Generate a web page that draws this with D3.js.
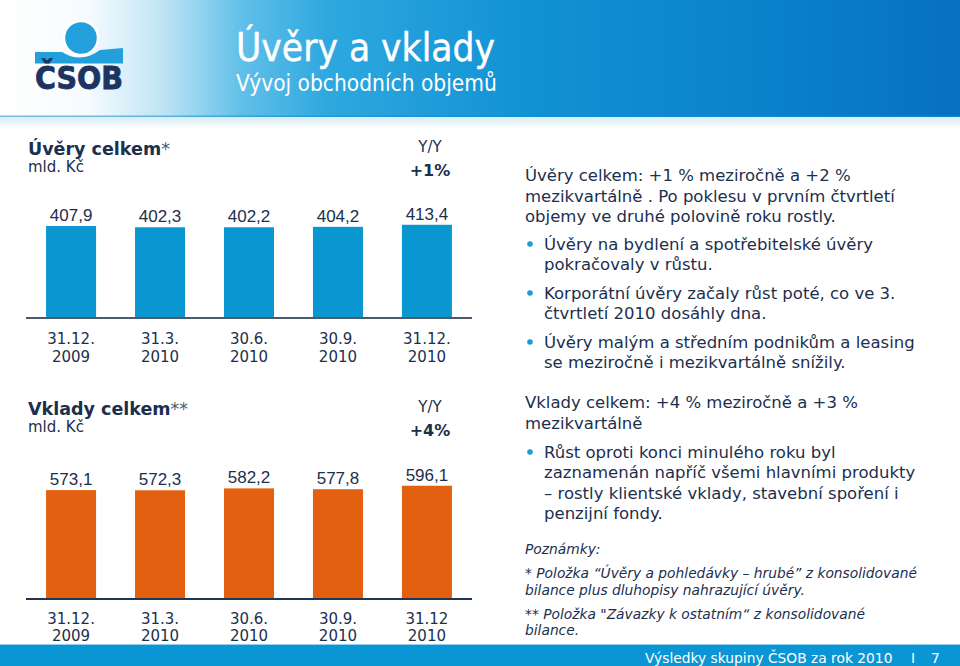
<!DOCTYPE html>
<html>
<head>
<meta charset="utf-8">
<script src="https://cdn.jsdelivr.net/npm/d3@7/dist/d3.min.js"></script>
<style>
  html, body { margin: 0; padding: 0; background: #ffffff; }
  svg { display: block; }
  text { font-family: "DejaVu Sans", Verdana, sans-serif; }
</style>
</head>
<body>
<svg id="chart" width="960" height="666"></svg>
<script>
// ---------------- DATA ----------------
const loanCategories = [["31.12.", "2009"], ["31.3.", "2010"], ["30.6.", "2010"], ["30.9.", "2010"], ["31.12.", "2010"]];
const loanValues = [407.9, 402.3, 402.2, 404.2, 413.4];
const loanYoY = "+1%";

const depositCategories = [["31.12.", "2009"], ["31.3.", "2010"], ["30.6.", "2010"], ["30.9.", "2010"], ["31.12", "2010"]];
const depositValues = [573.1, 572.3, 582.2, 577.8, 596.1];
const depositYoY = "+4%";

const titleMain = "Úvěry a vklady";
const titleSub = "Vývoj obchodních objemů";

const loanText = [
  { t: "Úvěry celkem: +1 % meziročně a +2 %", b: false },
  { t: "mezikvartálně . Po poklesu v prvním čtvrtletí", b: false },
  { t: "objemy ve druhé polovině roku rostly.", b: false },
  { t: "Úvěry na bydlení a spotřebitelské úvěry", b: true },
  { t: "pokračovaly v růstu.", b: false, indent: true },
  { t: "Korporátní úvěry začaly růst poté, co ve 3.", b: true },
  { t: "čtvrtletí 2010 dosáhly dna.", b: false, indent: true },
  { t: "Úvěry malým a středním podnikům a leasing", b: true },
  { t: "se meziročně i mezikvartálně snížily.", b: false, indent: true }
];
const depositText = [
  { t: "Vklady celkem: +4 % meziročně a +3 %", b: false },
  { t: "mezikvartálně", b: false },
  { t: "Růst oproti konci minulého roku byl", b: true },
  { t: "zaznamenán napříč všemi hlavními produkty", b: false, indent: true },
  { t: "– rostly klientské vklady, stavební spoření i", b: false, indent: true },
  { t: "penzijní fondy.", b: false, indent: true }
];
const notes = [
  "Poznámky:",
  "* Položka “Úvěry a pohledávky – hrubé”  z konsolidované",
  "bilance plus dluhopisy nahrazující úvěry.",
  "** Položka \"Závazky k ostatním“ z konsolidované",
  "bilance."
];
const footerText = "Výsledky skupiny ČSOB za rok 2010";
const pageNumber = "7";

// ---------------- SETUP ----------------
const svg = d3.select("#chart");
const NAVY = "#1b2f4e";
const czFormat = d3.formatLocale({ decimal: ",", thousands: " ", grouping: [3], currency: ["", " Kč"] }).format(".1f");

const defs = svg.append("defs");
const hg = defs.append("linearGradient").attr("id", "hdr").attr("x1", "0").attr("x2", "1").attr("y1", "0").attr("y2", "0");
[[0, "#ffffff"], [0.09, "#f6fbfe"], [0.17, "#bfe4f5"], [0.25, "#62c0e9"], [0.34, "#2ea8df"], [0.55, "#1192d4"], [0.8, "#0a82cb"], [1, "#0770c0"]]
  .forEach(([o, c]) => hg.append("stop").attr("offset", o).attr("stop-color", c));
const sg = defs.append("linearGradient").attr("id", "shade").attr("x1", "0").attr("x2", "0").attr("y1", "0").attr("y2", "1");
sg.append("stop").attr("offset", 0).attr("stop-color", "#cfe9f7");
sg.append("stop").attr("offset", 1).attr("stop-color", "#ffffff");

// Header
svg.append("rect").attr("x", 0).attr("y", 0).attr("width", 960).attr("height", 117).attr("fill", "url(#hdr)");
svg.append("rect").attr("x", 0).attr("y", 117).attr("width", 960).attr("height", 12).attr("fill", "url(#shade)").attr("opacity", 0.8);
svg.append("rect").attr("x", 0).attr("y", 115.5).attr("width", 960).attr("height", 1.5).attr("fill", "#1a8fcf").attr("opacity", 0.6);

// Logo
const logo = svg.append("g");
logo.append("path")
  .attr("d", "M35,52 L62,52 Q81,64 100,50 L123,48 L123,63.5 L35,63.5 Z")
  .attr("fill", "#22a0dc");
logo.append("circle").attr("cx", 81).attr("cy", 38).attr("r", 17)
  .attr("fill", "#22a0dc").attr("stroke", "#ffffff").attr("stroke-width", 2.5);
logo.append("text").attr("x", 35).attr("y", 89).attr("textLength", 88).attr("lengthAdjust", "spacingAndGlyphs")
  .style("font-family", "'DejaVu Sans Condensed', 'DejaVu Sans', sans-serif")
  .style("font-weight", "bold").style("font-size", "32px").attr("fill", "#1d3461")
  .attr("stroke", "#1d3461").attr("stroke-width", 0.8).text("ČSOB");

svg.append("text").attr("x", 236).attr("y", 61)
  .style("font-family", "'DejaVu Sans Condensed', 'DejaVu Sans', sans-serif")
  .style("font-size", "38.5px").attr("fill", "#ffffff")
  .attr("stroke", "#ffffff").attr("stroke-width", 0.4).text(titleMain);
svg.append("text").attr("x", 236).attr("y", 91)
  .style("font-family", "'DejaVu Sans Condensed', 'DejaVu Sans', sans-serif")
  .style("font-size", "22.5px").attr("fill", "#ffffff").text(titleSub);

// ---------------- BAR CHARTS ----------------
const x = d3.scaleBand().domain(d3.range(5)).range([26.5, 471.5]).paddingInner(0.438).paddingOuter(0.22);

function drawChart(cfg) {
  const g = svg.append("g");
  const y = d3.scaleLinear().domain([0, cfg.domainMax]).range([cfg.base, cfg.base - cfg.pxPerUnit * cfg.domainMax]);
  // Title
  const tt = g.append("text").attr("x", 28).attr("y", cfg.titleY).attr("fill", NAVY).style("font-size", "17.5px");
  tt.append("tspan").style("font-weight", "bold").text(cfg.title);
  tt.append("tspan").style("font-weight", "normal").attr("fill", "#4a5a70").text(cfg.stars);
  g.append("text").attr("x", 28).attr("y", cfg.titleY + 17).attr("fill", NAVY).style("font-size", "15px").text("mld. Kč");
  g.append("text").attr("x", 430).attr("y", cfg.titleY - 3).attr("text-anchor", "middle").attr("fill", NAVY).style("font-size", "15px").text("Y/Y");
  g.append("text").attr("x", 430).attr("y", cfg.titleY + 21).attr("text-anchor", "middle").attr("fill", NAVY)
    .style("font-size", "16px").style("font-weight", "bold").text(cfg.yoy);

  g.selectAll("rect.bar").data(cfg.values).join("rect").attr("class", "bar")
    .attr("x", (d, i) => x(i)).attr("width", x.bandwidth())
    .attr("y", d => y(d)).attr("height", d => y(0) - y(d)).attr("fill", cfg.color);

  g.selectAll("text.val").data(cfg.values).join("text").attr("class", "val")
    .attr("x", (d, i) => x(i) + x.bandwidth() / 2).attr("y", d => y(d) - 5)
    .attr("text-anchor", "middle").attr("fill", NAVY)
    .style("font-family", "'Liberation Sans', Arial, sans-serif").style("font-size", "17px")
    .text(d => czFormat(d));

  const axis = d3.axisBottom(x).tickSize(0).tickFormat("");
  const ax = g.append("g").attr("transform", `translate(0,${y(0)})`).call(axis);
  ax.select(".domain").attr("d", "M26,0H472").attr("stroke", cfg.axisColor).attr("stroke-width", 2);

  const cl = g.selectAll("text.cat").data(cfg.categories).join("text").attr("class", "cat")
    .attr("text-anchor", "middle").attr("fill", NAVY).style("font-size", "15px");
  cl.each(function (d, i) {
    const t = d3.select(this);
    d.forEach((line, j) => {
      t.append("tspan").attr("x", x(i) + x.bandwidth() / 2).attr("y", y(0) + cfg.catOffset + j * cfg.catLine).text(line);
    });
  });
}

drawChart({ title: "Úvěry celkem", stars: "*", yoy: loanYoY, values: loanValues, categories: loanCategories,
  color: "#0a96d0", axisColor: "#4b5b6d", base: 318, pxPerUnit: 0.2255, domainMax: 450,
  titleY: 155, catOffset: 26, catLine: 17.5 });
drawChart({ title: "Vklady celkem", stars: "**", yoy: depositYoY, values: depositValues, categories: depositCategories,
  color: "#e2600f", axisColor: "#1f3652", base: 599, pxPerUnit: 0.19, domainMax: 600,
  titleY: 415, catOffset: 25, catLine: 17 });

// ---------------- RIGHT TEXT ----------------
function drawText(lines, baselines) {
  lines.forEach((l, i) => {
    const xx = (l.b || l.indent) ? 544 : 525;
    svg.append("text").attr("x", xx).attr("y", baselines[i]).attr("fill", NAVY).style("font-size", "16.5px").text(l.t);
    if (l.b) svg.append("circle").attr("cx", 530).attr("cy", baselines[i] - 6).attr("r", 2.8).attr("fill", "#1a9ad6");
  });
}
drawText(loanText, [181, 202, 222, 250, 270, 299, 319, 348, 368]);
drawText(depositText, [408, 429, 458, 478, 499, 519]);

const noteY = [554, 578, 595, 619, 635];
notes.forEach((n, i) => {
  svg.append("text").attr("x", 525).attr("y", noteY[i]).attr("fill", NAVY)
    .style("font-size", "13.8px").style("font-style", "italic").text(n);
});

// ---------------- FOOTER ----------------
svg.append("rect").attr("x", 0).attr("y", 645).attr("width", 960).attr("height", 21).attr("fill", "#0a96d4");
svg.append("rect").attr("x", 0).attr("y", 644).attr("width", 960).attr("height", 1).attr("fill", "#8fd0ef");
svg.append("text").attr("x", 645).attr("y", 663).attr("fill", "#ffffff").style("font-size", "13.8px").text(footerText);
svg.append("text").attr("x", 911).attr("y", 663).attr("fill", "#ffffff").style("font-size", "13.8px").text("I");
svg.append("text").attr("x", 931).attr("y", 663).attr("fill", "#ffffff").style("font-size", "13.8px").text(pageNumber);
</script>
</body>
</html>
